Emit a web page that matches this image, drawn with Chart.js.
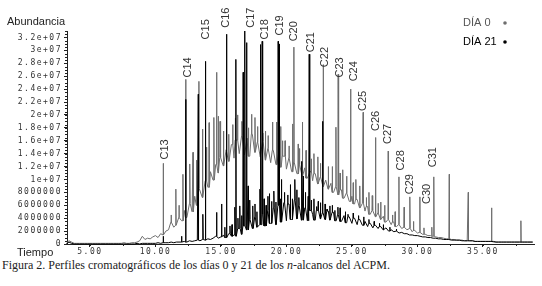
<!DOCTYPE html>
<html>
<head>
<meta charset="utf-8">
<script src="https://cdn.jsdelivr.net/npm/chart.js@4/dist/chart.umd.min.js"></script>
<style>
  body { margin: 0; background: #fff; }
  #wrap { position: relative; width: 542px; height: 286px; }
  #caption { position: absolute; left: 2px; top: 258px; font: 12px "Liberation Serif", serif; color: #222; white-space: nowrap; }
</style>
</head>
<body>
<div id="wrap">
  <canvas id="chromChart" width="542" height="258"></canvas>
  <div id="caption">Figura 2. Perfiles cromatográficos de los días 0 y 21 de los <i>n</i>-alcanos del ACPM.</div>
</div>
<script>
// eje x: tiempo (min), eje y: abundancia (valores en millones)
const xTickLabels = ['5.00', '10.00', '15.00', '20.00', '25.00', '30.00', '35.00'];
const yTickLabels = ['0', '2000000', '4000000', '6000000', '8000000', '1e+07', '1.2e+07', '1.4e+07',
    '1.6e+07', '1.8e+07', '2e+07', '2.2e+07', '2.4e+07', '2.6e+07', '2.8e+07', '3e+07', '3.2e+07'];

const seriesNames = ['DÍA 0', 'DÍA 21'];

// linea base muestreada cada 0.2 min desde 3.2 min
const gridStart = 3.2;
const gridStep = 0.2;

const dia0Base = [
    0.1, 0.5, 0.3, 0.1,
    0.1, 0.1, 0.1, 0.1, 0.1,
    0.1, 0.1, 0.1, 0.1, 0.1,
    0.1, 0.1, 0.1, 0.1, 0.1,
    0.1, 0.1, 0.1, 0.2, 0.1,
    0.1, 0.2, 0.2, 0.3, 0.5,
    1.2, 0.7, 0.9, 0.8, 1.1,
    1.3, 1.0, 1.6, 1.4, 2.0,
    2.2, 3.4, 2.6, 2.9, 4.1,
    3.6, 5.2, 4.1, 6.3, 5.0,
    7.4, 6.0, 8.6, 7.2, 9.8,
    8.8, 11.2, 9.9, 12.3, 11.0,
    13.4, 12.1, 14.6, 12.8, 15.4,
    13.3, 16.1, 14.0, 16.8, 13.8,
    16.4, 13.6, 17.0, 14.2, 15.8,
    13.5, 15.9, 13.0, 14.8, 12.6,
    14.5, 12.3, 14.0, 11.9, 13.6,
    11.6, 13.3, 11.2, 12.7, 10.9,
    12.3, 10.5, 11.8, 10.2, 11.2,
    9.8, 10.9, 9.3, 10.4, 8.9,
    9.9, 8.5, 9.4, 8.0, 8.9,
    7.6, 8.4, 7.1, 7.9, 6.6,
    7.4, 6.2, 6.9, 5.6, 6.3,
    5.1, 5.8, 4.6, 5.2, 4.2,
    4.8, 3.8, 4.3, 3.4, 3.8,
    3.0, 3.4, 2.7, 3.0, 2.4,
    2.6, 2.2, 2.4, 1.9, 2.1,
    1.7, 1.8, 1.5, 1.5, 1.3,
    1.3, 1.2, 1.1, 1.0, 1.0,
    0.9, 0.8, 0.8, 0.7, 0.7,
    0.6, 0.6, 0.6, 0.5, 0.5,
    0.5, 0.5, 0.4, 0.4, 0.4,
    0.4, 0.4, 0.4, 0.4, 0.3,
    0.3, 0.3, 0.3, 0.3, 0.3,
    0.3, 0.3, 0.3, 0.3, 0.3,
    0.3, 0.3, 0.3, 0.3, 0.3
];

const dia21Base = [
    0.0, 0.3, 0.1, 0.0,
    0.0, 0.0, 0.0, 0.0, 0.0,
    0.0, 0.0, 0.0, 0.0, 0.0,
    0.0, 0.0, 0.0, 0.0, 0.0,
    0.0, 0.0, 0.0, 0.0, 0.0,
    0.0, 0.0, 0.0, 0.1, 0.0,
    0.1, 0.1, 0.1, 0.1, 0.1,
    0.1, 0.2, 0.1, 0.2, 0.2,
    0.2, 0.3, 0.2, 0.3, 0.3,
    0.3, 0.4, 0.3, 0.5, 0.4,
    0.5, 0.6, 0.5, 0.7, 0.6,
    0.8, 0.7, 0.9, 1.2, 0.9,
    1.1, 1.4, 1.0, 1.6, 1.2,
    1.4, 1.2, 2.4, 1.5, 2.8,
    2.2, 3.8, 2.4, 4.2, 2.6,
    3.0, 4.6, 2.8, 5.2, 3.2,
    5.6, 3.0, 6.0, 3.4, 6.4,
    3.6, 6.2, 3.8, 6.8, 3.9,
    6.0, 3.7, 5.6, 3.6, 5.2,
    4.6, 3.7, 5.2, 3.9, 4.8,
    3.8, 5.1, 3.7, 4.9, 3.6,
    4.6, 3.5, 4.4, 3.3, 4.2,
    3.2, 4.0, 3.0, 3.8, 2.9,
    3.5, 2.7, 3.2, 2.5, 2.9,
    2.4, 2.7, 2.2, 2.5, 2.0,
    2.2, 1.9, 2.0, 1.7, 1.8,
    1.6, 1.6, 1.4, 1.4, 1.3,
    1.3, 1.2, 1.1, 1.1, 1.0,
    1.0, 0.9, 0.9, 0.8, 0.8,
    0.7, 0.7, 0.7, 0.6, 0.6,
    0.6, 0.6, 0.5, 0.5, 0.5,
    0.5, 0.5, 0.4, 0.4, 0.4,
    0.4, 0.4, 0.4, 0.4, 0.4,
    0.3, 0.3, 0.3, 0.3, 0.3,
    0.3, 0.3, 0.3, 0.3, 0.3,
    0.3, 0.3, 0.3, 0.3, 0.3
];

// picos [tiempo, altura en millones]
const dia0Peaks = [
    [10.60, 12.5], [11.20, 4.5], [11.56, 8.5], [11.80, 6.0], [12.10, 10.8], [12.31, 25.5],
    [12.63, 12.4], [12.87, 14.2], [13.14, 13.0], [13.32, 25.2], [13.60, 17.8], [13.90, 15.0],
    [14.10, 18.8], [14.47, 19.6], [14.67, 26.6], [14.80, 19.8], [14.93, 19.0], [15.20, 17.5],
    [15.60, 17.0], [15.90, 18.5], [16.10, 19.5], [16.27, 20.0], [16.60, 19.0], [17.10, 18.0],
    [17.34, 20.1], [17.60, 19.6], [17.80, 18.2], [18.20, 17.2], [18.40, 17.5], [18.60, 16.8],
    [18.94, 18.9], [19.25, 18.9], [19.56, 18.2], [19.70, 16.0], [19.90, 16.0], [20.20, 15.2],
    [20.47, 18.6], [20.57, 30.5], [20.90, 15.5], [21.00, 14.8], [21.23, 18.9], [21.50, 14.5],
    [21.90, 13.2], [22.10, 14.0], [22.40, 13.5], [22.60, 12.5], [22.81, 27.8], [23.20, 12.0],
    [23.50, 12.0], [23.78, 18.1], [23.95, 26.3], [24.10, 11.0], [24.30, 11.5], [24.60, 10.5],
    [24.90, 24.0], [25.10, 9.5], [25.30, 10.0], [25.60, 9.0], [25.86, 20.4], [26.10, 7.2],
    [26.30, 8.0], [26.55, 7.5], [26.81, 16.5], [27.00, 6.3], [27.20, 6.5], [27.50, 6.0],
    [27.77, 14.4], [28.10, 4.5], [28.30, 5.0], [28.59, 10.4], [28.99, 5.7], [29.43, 7.3],
    [29.70, 3.5], [30.19, 7.3], [30.50, 2.5], [31.10, 2.6], [31.26, 10.4], [32.43, 10.8],
    [33.88, 8.0], [35.66, 5.6], [37.90, 3.6]
];

const dia21Peaks = [
    [10.60, 1.2], [12.00, 1.2], [12.31, 22.4], [13.27, 23.2], [13.63, 4.6], [13.83, 28.3],
    [14.67, 4.9], [15.05, 6.2], [15.30, 2.6], [15.44, 32.5], [15.69, 2.8], [15.85, 3.0],
    [16.07, 5.7], [16.15, 28.6], [16.30, 4.0], [16.45, 5.9], [16.58, 4.4], [16.70, 26.6],
    [16.83, 33.0], [16.96, 31.2], [17.08, 9.0], [17.20, 6.8], [17.44, 5.9], [17.60, 6.2],
    [17.75, 5.0], [17.98, 8.5], [18.05, 30.9], [18.15, 31.4], [18.30, 7.0], [18.45, 6.0],
    [18.59, 7.4], [18.70, 7.8], [18.87, 6.6], [19.05, 8.2], [19.20, 6.5], [19.37, 31.4],
    [19.46, 31.0], [19.55, 7.0], [19.63, 10.0], [19.85, 8.0], [20.10, 7.6], [20.30, 9.2],
    [20.45, 7.0], [20.65, 10.0], [20.80, 8.4], [20.95, 7.2], [21.16, 12.8], [21.28, 10.5],
    [21.45, 8.0], [21.66, 7.4], [21.74, 29.4], [21.90, 6.8], [22.10, 7.0], [22.30, 5.8],
    [22.43, 6.6], [22.60, 6.4], [22.76, 19.0], [22.95, 6.2], [23.10, 5.4], [23.32, 5.9],
    [23.50, 6.0], [23.70, 5.2], [23.93, 5.7], [24.10, 5.6], [24.50, 5.0], [24.70, 4.6],
    [25.10, 4.8], [25.50, 4.4], [25.90, 4.2], [26.30, 3.8], [26.70, 3.5], [27.10, 3.2],
    [27.40, 3.0], [27.90, 2.6], [28.40, 2.3]
];

// etiquetas de los n-alcanos: tiempo y altura (millones) de la base del texto
const alkaneNames = ['C13', 'C14', 'C15', 'C16', 'C17', 'C18', 'C19', 'C20', 'C21', 'C22',
    'C23', 'C24', 'C25', 'C26', 'C27', 'C28', 'C29', 'C30', 'C31'];
const alkaneTimes = [10.73, 12.48, 13.89, 15.38, 17.33, 18.36, 19.50, 20.57, 21.87, 22.94,
    24.12, 25.15, 25.84, 26.83, 27.79, 28.78, 29.43, 30.73, 31.15];
const alkaneHeights = [13.1, 25.8, 31.7, 33.5, 33.5, 31.7, 32.3, 31.4, 29.7, 27.4,
    25.8, 25.2, 20.6, 17.5, 15.5, 11.4, 7.7, 6.2, 11.9];

const colorDia0 = '#6e6e6e';
const colorDia21 = '#000000';

function buildSeries(base, peaks) {
    const pts = base.map((v, i) => ({ x: +(gridStart + i * gridStep).toFixed(2), y: v * 1e6 }));
    peaks.forEach(([t, top]) => {
        const b = base[Math.round((t - gridStart) / gridStep)] * 1e6;
        pts.push({ x: t - 0.02, y: b }, { x: t, y: top * 1e6 }, { x: t + 0.02, y: b });
    });
    pts.sort((a, b) => a.x - b.x);
    return pts;
}

const tickFont = { family: 'DejaVu Sans Mono', size: 8 };

const extrasPlugin = {
    id: 'extras',
    beforeDraw(chart) {
        chart.ctx.letterSpacing = '1.5px';
    },
    beforeDatasetsDraw(chart) {
        chart.ctx.letterSpacing = '0px';
    },
    afterDraw(chart) {
        const { ctx, scales: { x, y }, chartArea } = chart;
        ctx.save();
        ctx.letterSpacing = '0px';

        // marcas menores de los ejes
        ctx.strokeStyle = '#222';
        ctx.lineWidth = 1;
        ctx.beginPath();
        for (let v = 0; v <= y.max; v += 5e5) {
            const py = Math.round(y.getPixelForValue(v)) + 0.5;
            ctx.moveTo(chartArea.left - 2, py);
            ctx.lineTo(chartArea.left, py);
        }
        for (let t = 5; t <= x.max; t += 2.5) {
            const px = Math.round(x.getPixelForValue(t)) + 0.5;
            ctx.moveTo(px, chartArea.bottom);
            ctx.lineTo(px, chartArea.bottom + 2);
        }
        ctx.stroke();

        // etiquetas de los alcanos (texto vertical)
        ctx.font = '11px "Liberation Sans", Arial, sans-serif';
        ctx.fillStyle = '#333';
        ctx.textAlign = 'left';
        ctx.textBaseline = 'middle';
        alkaneNames.forEach((name, i) => {
            const px = x.getPixelForValue(alkaneTimes[i]);
            const py = y.getPixelForValue(alkaneHeights[i] * 1e6);
            ctx.save();
            ctx.translate(px, py);
            ctx.rotate(-Math.PI / 2);
            ctx.fillText(name, 0, 0);
            ctx.restore();
        });

        // titulos de ejes
        ctx.fillStyle = '#222';
        ctx.textBaseline = 'middle';
        ctx.fillText('Abundancia', 7, 22);
        ctx.fillText('Tiempo', 17, 253);

        // leyenda
        const legendColors = [colorDia0, colorDia21];
        seriesNames.forEach((name, i) => {
            const ly = 23 + i * 19;
            ctx.fillStyle = i === 0 ? '#555' : '#000';
            ctx.fillText(name, 463, ly);
            ctx.fillStyle = legendColors[i];
            ctx.beginPath();
            ctx.arc(505, ly, 1.8, 0, Math.PI * 2);
            ctx.fill();
        });
        ctx.restore();
    }
};

new Chart(document.getElementById('chromChart').getContext('2d'), {
    type: 'line',
    data: {
        datasets: [
            {
                label: seriesNames[1],
                data: buildSeries(dia21Base, dia21Peaks),
                borderColor: colorDia21,
                borderWidth: 1,
                pointRadius: 0,
                tension: 0,
                clip: false
            },
            {
                label: seriesNames[0],
                data: buildSeries(dia0Base, dia0Peaks),
                borderColor: colorDia0,
                borderWidth: 1,
                pointRadius: 0,
                tension: 0,
                clip: false
            }
        ]
    },
    options: {
        responsive: false,
        animation: false,
        layout: { padding: { top: 31, right: 8, left: 0, bottom: 0 } },
        plugins: {
            legend: { display: false },
            tooltip: { enabled: false }
        },
        scales: {
            x: {
                type: 'linear',
                min: 3.25,
                max: 38.9,
                afterBuildTicks: s => { s.ticks = xTickLabels.map(l => ({ value: Number(l) })); },
                afterFit: s => { s.height = 14; },
                grid: { drawOnChartArea: false, tickLength: 3, color: '#222' },
                border: { color: '#222', width: 1 },
                ticks: {
                    font: tickFont,
                    color: '#333',
                    padding: 0,
                    maxRotation: 0,
                    autoSkip: false,
                    callback: v => xTickLabels.find(l => Number(l) === v) || ''
                }
            },
            y: {
                min: 0,
                max: 3.3e7,
                afterBuildTicks: s => { s.ticks = yTickLabels.map(l => ({ value: Number(l) })); },
                afterFit: s => { s.width = 67; },
                grid: { drawOnChartArea: false, tickLength: 3, color: '#222' },
                border: { color: '#222', width: 1 },
                ticks: {
                    font: tickFont,
                    color: '#333',
                    padding: 2,
                    autoSkip: false,
                    callback: v => yTickLabels.find(l => Number(l) === v) || ''
                }
            }
        }
    },
    plugins: [extrasPlugin]
});
</script>
</body>
</html>
